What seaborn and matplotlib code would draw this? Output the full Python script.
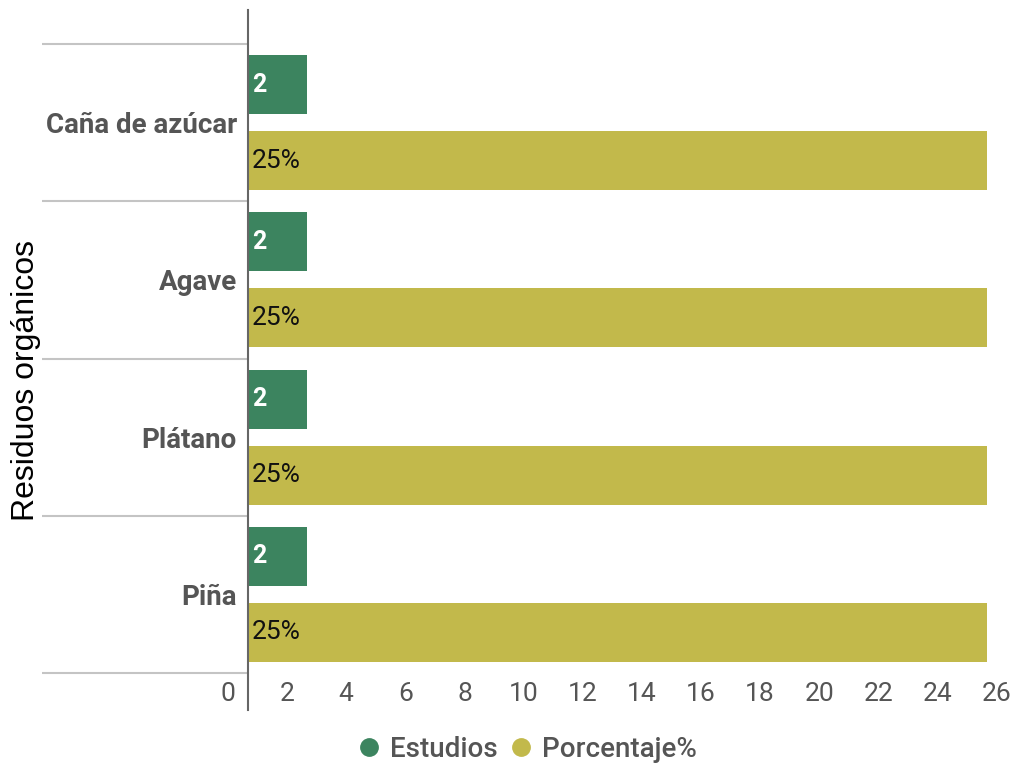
import matplotlib
matplotlib.use('Agg')
import matplotlib.pyplot as plt
from matplotlib.lines import Line2D
from matplotlib.transforms import ScaledTranslation
import seaborn as sns
import pandas as pd

residuos = ['Caña de azúcar', 'Agave', 'Plátano', 'Piña']
estudios = [2, 2, 2, 2]
porcentaje = [25, 25, 25, 25]
series = ['Estudios', 'Porcentaje%']
colores = ['#3c845f', '#c2b94b']
x_ticks = list(range(0, 27, 2))

df = pd.DataFrame({
    'residuo': residuos * 2,
    'valor': estudios + porcentaje,
    'serie': [series[0]] * len(residuos) + [series[1]] * len(residuos),
})

sns.set_style('white')
plt.rcParams['font.family'] = ['Roboto', 'DejaVu Sans']

fig = plt.figure(figsize=(10.12, 7.63), dpi=100)
ax = fig.add_axes([248 / 1012, 53 / 763, 768.6 / 1012, 700 / 763])

sns.barplot(data=df, y='residuo', x='valor', hue='serie', orient='h',
            palette=colores, saturation=1, width=0.966, gap=0.224,
            legend=False, linewidth=0, ax=ax)

# etiquetas dentro de las barras
for p in ax.containers[0]:
    ax.annotate(format(p.get_width(), '.0f'),
                (p.get_x(), p.get_y() + p.get_height() / 2),
                xytext=(3, 0), textcoords='offset points',
                ha='left', va='center', color='white',
                fontsize=18, fontweight='bold')
for p in ax.containers[1]:
    ax.annotate(format(p.get_width(), '.0f') + '%',
                (p.get_x(), p.get_y() + p.get_height() / 2),
                xytext=(3, 0), textcoords='offset points',
                ha='left', va='center', color='#111111', fontsize=19)

ax.set_xlim(0, 26)
ax.set_ylim(3.735, -0.716)
ax.set_xticks(x_ticks)
ax.set_xticklabels([str(t) for t in x_ticks])
ax.set_yticks(range(len(residuos)))
ax.set_yticklabels(residuos)
ax.set_yticks([i - 0.5 for i in range(len(residuos) + 1)], minor=True)

ax.tick_params(axis='x', length=0, labelsize=19, labelcolor='#555555', pad=-20)
ax.tick_params(axis='y', which='major', left=False, length=0, pad=8,
               labelsize=20, labelcolor='#555555')
ax.tick_params(axis='y', which='minor', left=True, length=148, width=1.5,
               color='#c4c4c4')
for lbl in ax.get_yticklabels():
    lbl.set_fontweight('bold')
for lbl in ax.get_xticklabels():
    lbl.set_transform(lbl.get_transform() +
                      ScaledTranslation(-0.2, 0, fig.dpi_scale_trans))

for s in ['top', 'right', 'bottom']:
    ax.spines[s].set_visible(False)
ax.spines['left'].set_color('#666666')
ax.spines['left'].set_linewidth(1.5)

ax.set_xlabel('')
ax.set_ylabel('Residuos orgánicos', fontsize=23, family='Liberation Sans',
              color='black', va='center')
ax.yaxis.set_label_coords(-0.289, 0.471)

handles = [Line2D([], [], marker='o', linestyle='', markersize=12.5,
                  markerfacecolor=c, markeredgecolor=c) for c in colores]
fig.legend(handles, series, loc='center', bbox_to_anchor=(0.522, 0.018),
           ncol=2, frameon=False, handlelength=0.7, handletextpad=0.4,
           columnspacing=0.5,
           prop={'size': 20, 'weight': 'medium'}, labelcolor='#555555')

fig.savefig('out.png', dpi=100)
